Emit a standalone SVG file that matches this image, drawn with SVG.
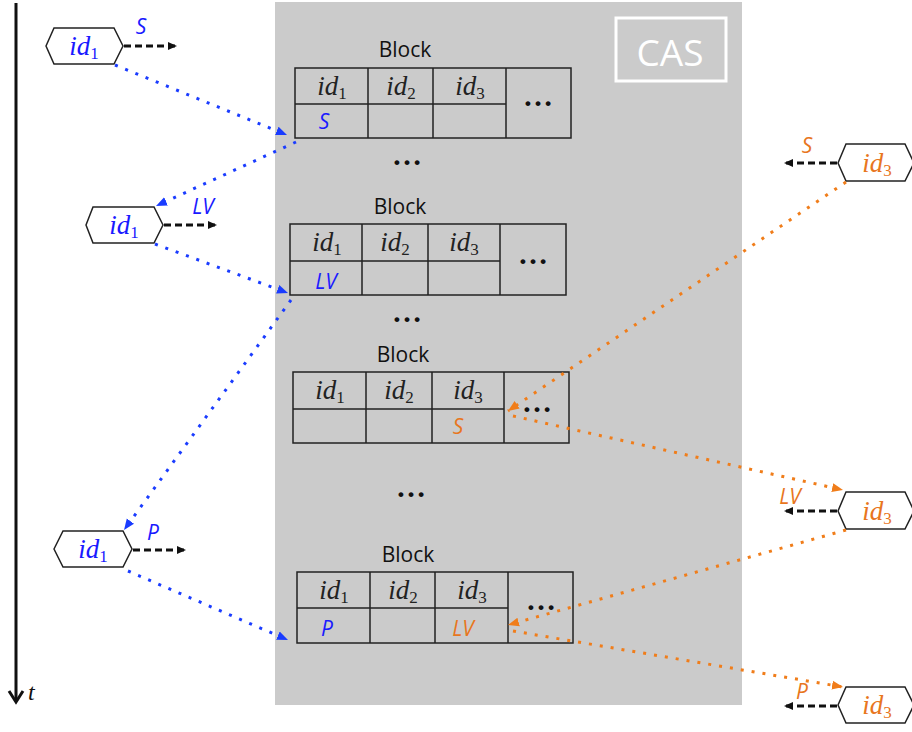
<svg xmlns="http://www.w3.org/2000/svg" width="912" height="732" viewBox="0 0 912 732">
<style>
.tbl{fill:none;stroke:#222;stroke-width:1.5}
.blk{font-family:"Open Sans","Liberation Sans",sans-serif;font-size:21px;fill:#111;text-anchor:middle}
.id{font-family:"Liberation Serif",serif;font-style:italic;font-size:27px;fill:#222;text-anchor:middle}
.sub{font-style:normal;font-size:17px}
.dots{font-family:"Liberation Serif",serif;font-size:30px;font-weight:bold;fill:#111;text-anchor:middle}
.lbl{font-family:"Open Sans","Liberation Sans",sans-serif;font-style:italic;font-size:21px;text-anchor:middle}
.b{fill:#1a1aff}
.o{fill:#e8761e}
.hex{fill:#fff;stroke:#222;stroke-width:1.5}
.bd{fill:none;stroke:#1a3cff;stroke-width:3;stroke-dasharray:3 8}
.od{fill:none;stroke:#f07d1a;stroke-width:3;stroke-dasharray:3 8}
.kd{fill:none;stroke:#111;stroke-width:3;stroke-dasharray:7 4}
</style>
<defs>
<marker id="ab" markerUnits="userSpaceOnUse" markerWidth="12" markerHeight="10" refX="11" refY="5" orient="auto"><path d="M0,0.5 L11,5 L0,9.5 z" fill="#1a3cff"/></marker>
<marker id="ao" markerUnits="userSpaceOnUse" markerWidth="12" markerHeight="10" refX="11" refY="5" orient="auto"><path d="M0,0.5 L11,5 L0,9.5 z" fill="#f07d1a"/></marker>
<marker id="ak" markerUnits="userSpaceOnUse" markerWidth="10" markerHeight="10" refX="9" refY="5" orient="auto"><path d="M0,1 L9,5 L0,9 z" fill="#111"/></marker>
</defs>
<rect width="912" height="732" fill="#fff"/>

<g id="timeline">
<line x1="16" y1="3" x2="16" y2="701" stroke="#111" stroke-width="3"/>
<polyline points="9,691 16,702 23,691" fill="none" stroke="#111" stroke-width="3"/>
<text x="28" y="700" font-family="Liberation Serif,serif" font-style="italic" font-size="24" fill="#111">t</text>
</g>

<g id="cas">
<rect x="275" y="2" width="467" height="703" fill="#cbcbcb"/>
<rect x="616" y="18" width="110" height="63" fill="none" stroke="#fff" stroke-width="3"/>
<text x="670" y="66" font-family="Open Sans,Liberation Sans,sans-serif" font-size="37" fill="#fff" text-anchor="middle">CAS</text>
</g>

<g id="block1">
<text class="blk" x="405" y="57">Block</text>
<rect class="tbl" x="295" y="68" width="276" height="70"/>
<path class="tbl" d="M368,68V138M433,68V138M506,68V138M295,104H506"/>
<text class="id" x="332" y="95">id<tspan class="sub" dy="4">1</tspan></text>
<text class="id" x="401" y="95">id<tspan class="sub" dy="4">2</tspan></text>
<text class="id" x="470" y="95">id<tspan class="sub" dy="4">3</tspan></text>
<text class="dots" x="538" y="106">…</text>
<text class="lbl b" x="324" y="129">S</text>
<text class="dots" x="407" y="165">…</text>
</g>

<g id="block2">
<text class="blk" x="400" y="214">Block</text>
<rect class="tbl" x="290" y="224" width="276" height="71"/>
<path class="tbl" d="M362,224V295M428,224V295M500,224V295M290,261H500"/>
<text class="id" x="327" y="251">id<tspan class="sub" dy="4">1</tspan></text>
<text class="id" x="395" y="251">id<tspan class="sub" dy="4">2</tspan></text>
<text class="id" x="464" y="251">id<tspan class="sub" dy="4">3</tspan></text>
<text class="dots" x="533" y="264">…</text>
<text class="lbl b" x="326" y="289">LV</text>
<text class="dots" x="407" y="322">…</text>
</g>

<g id="block3">
<text class="blk" x="403" y="362">Block</text>
<rect class="tbl" x="293" y="372" width="276" height="71"/>
<path class="tbl" d="M366,372V443M432,372V443M504,372V443M293,409H504"/>
<text class="id" x="330" y="399">id<tspan class="sub" dy="4">1</tspan></text>
<text class="id" x="399" y="399">id<tspan class="sub" dy="4">2</tspan></text>
<text class="id" x="468" y="399">id<tspan class="sub" dy="4">3</tspan></text>
<text class="dots" x="537" y="412">…</text>
<text class="lbl o" x="458" y="434">S</text>
<text class="dots" x="411" y="497">…</text>
</g>

<g id="block4">
<text class="blk" x="408" y="562">Block</text>
<rect class="tbl" x="297" y="572" width="276" height="71"/>
<path class="tbl" d="M370,572V643M435,572V643M508,572V643M297,608H508"/>
<text class="id" x="334" y="599">id<tspan class="sub" dy="4">1</tspan></text>
<text class="id" x="403" y="599">id<tspan class="sub" dy="4">2</tspan></text>
<text class="id" x="472" y="599">id<tspan class="sub" dy="4">3</tspan></text>
<text class="dots" x="541" y="610">…</text>
<text class="lbl b" x="327" y="636">P</text>
<text class="lbl o" x="463" y="636">LV</text>
</g>

<g id="left1">
<polygon class="hex" points="46,46 54,28 114,28 123,46 114,64 54,64"/>
<text class="id b" x="84" y="55">id<tspan class="sub" dy="4">1</tspan></text>
</g>
<g id="left2">
<polygon class="hex" points="86,225 93,207 154,207 163,225 154,243 93,243"/>
<text class="id b" x="124" y="234">id<tspan class="sub" dy="4">1</tspan></text>
</g>
<g id="left3">
<polygon class="hex" points="54,549 63,531 123,531 132,549 123,567 63,567"/>
<text class="id b" x="93" y="558">id<tspan class="sub" dy="4">1</tspan></text>
</g>
<g id="right1">
<polygon class="hex" points="838,163 846,144 905,144 914,163 905,181 846,181"/>
<text class="id o" x="877" y="172">id<tspan class="sub" dy="4">3</tspan></text>
</g>
<g id="right2">
<polygon class="hex" points="838,511 846,492 905,492 914,511 905,529 846,529"/>
<text class="id o" x="877" y="520">id<tspan class="sub" dy="4">3</tspan></text>
</g>
<g id="right3">
<polygon class="hex" points="838,705 846,687 905,687 914,705 905,723 846,723"/>
<text class="id o" x="877" y="714">id<tspan class="sub" dy="4">3</tspan></text>
</g>

<g id="connectors">
<line class="kd" x1="124" y1="46" x2="177" y2="46" marker-end="url(#ak)"/>
<line class="kd" x1="164" y1="225" x2="217" y2="225" marker-end="url(#ak)"/>
<line class="kd" x1="133" y1="550" x2="186" y2="550" marker-end="url(#ak)"/>
<line class="kd" x1="837" y1="163" x2="784" y2="163" marker-end="url(#ak)"/>
<line class="kd" x1="837" y1="511" x2="784" y2="511" marker-end="url(#ak)"/>
<line class="kd" x1="837" y1="706" x2="784" y2="706" marker-end="url(#ak)"/>

<line class="bd" x1="115" y1="65" x2="287" y2="135" marker-end="url(#ab)"/>
<line class="bd" x1="296" y1="142" x2="156" y2="206" marker-end="url(#ab)"/>
<line class="bd" x1="155" y1="244" x2="288" y2="293" marker-end="url(#ab)"/>
<line class="bd" x1="291" y1="300" x2="124" y2="530" marker-end="url(#ab)"/>
<line class="bd" x1="128" y1="571" x2="288" y2="640" marker-end="url(#ab)"/>

<line class="od" x1="846" y1="182" x2="508" y2="411" marker-end="url(#ao)"/>
<line class="od" x1="513" y1="416" x2="843" y2="490" marker-end="url(#ao)"/>
<line class="od" x1="846" y1="530" x2="508" y2="625" marker-end="url(#ao)"/>
<line class="od" x1="513" y1="631" x2="843" y2="687" marker-end="url(#ao)"/>

<text class="lbl b" x="141" y="34">S</text>
<text class="lbl b" x="203" y="214">LV</text>
<text class="lbl b" x="153" y="540">P</text>
<text class="lbl o" x="807" y="153">S</text>
<text class="lbl o" x="790" y="504">LV</text>
<text class="lbl o" x="802" y="699">P</text>
</g>
</svg>
